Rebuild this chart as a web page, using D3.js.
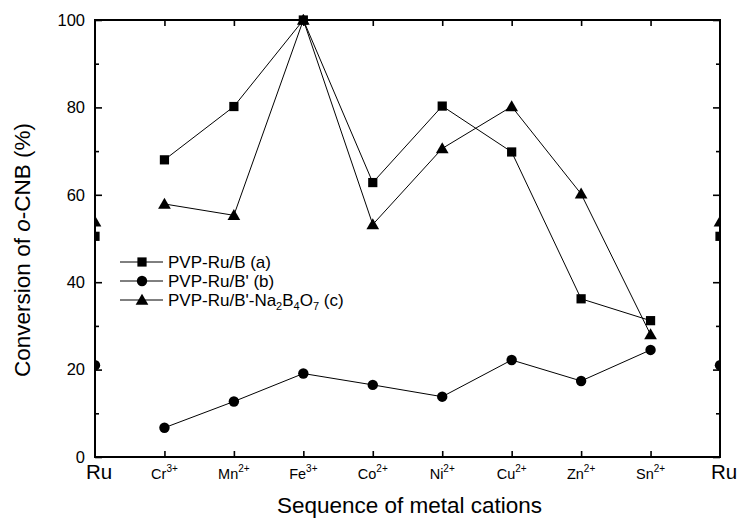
<!DOCTYPE html>
<html>
<head>
<meta charset="utf-8">
<script src="https://cdn.jsdelivr.net/npm/d3@7"></script>
<style>
  html, body { margin: 0; padding: 0; background: #fff; }
  svg { display: block; font-family: Arial, "Liberation Sans", sans-serif; }
</style>
</head>
<body>
<svg id="chart" width="738" height="518"></svg>
<script>
// ---- data ----
const categories = ["Ru", "Cr", "Mn", "Fe", "Co", "Ni", "Cu", "Zn", "Sn", "Ru"];
const charges = ["", "3+", "2+", "3+", "2+", "2+", "2+", "2+", "2+", ""];
const seriesA = [50.5, 68.0, 80.2, 100, 62.8, 80.3, 69.8, 36.2, 31.2, 50.5];   // PVP-Ru/B (a)
const seriesB = [21.0, 6.7, 12.7, 19.1, 16.5, 13.8, 22.2, 17.4, 24.5, 21.0];   // PVP-Ru/B' (b)
const seriesC = [53.8, 57.9, 55.3, 100, 53.2, 70.6, 80.2, 60.2, 28.0, 53.8];   // PVP-Ru/B'-Na2B4O7 (c)
const yMajorTicks = [0, 20, 40, 60, 80, 100];
const yMinorTicks = [10, 30, 50, 70, 90];

// ---- layout ----
const svg = d3.select("#chart");
const L = 95, R = 720, T = 20, B = 457;
const x = d3.scaleLinear().domain([0, categories.length - 1]).range([L, R]);
const y = d3.scaleLinear().domain([0, 100]).range([B, T]);
const inner = d3.range(1, categories.length - 1);

svg.append("defs").append("clipPath").attr("id", "plotclip")
  .append("rect").attr("x", L).attr("y", T - 6).attr("width", R - L).attr("height", B - T + 6);

// axes
const axisFont = "16.5px";
const gl = svg.append("g").attr("transform", `translate(${L},0)`)
  .call(d3.axisLeft(y).tickValues(yMajorTicks).tickSizeInner(-7).tickSizeOuter(0).tickPadding(10));
svg.append("g").attr("transform", `translate(${L},0)`)
  .call(d3.axisLeft(y).tickValues(yMinorTicks).tickSizeInner(-4).tickSizeOuter(0).tickFormat(""));
svg.append("g").attr("transform", `translate(${R},0)`)
  .call(d3.axisRight(y).tickValues(yMajorTicks).tickSizeInner(-7).tickSizeOuter(0).tickFormat(""));
svg.append("g").attr("transform", `translate(${R},0)`)
  .call(d3.axisRight(y).tickValues(yMinorTicks).tickSizeInner(-4).tickSizeOuter(0).tickFormat(""));
svg.append("g").attr("transform", `translate(0,${B})`)
  .call(d3.axisBottom(x).tickValues(inner).tickSizeInner(-6).tickSizeOuter(0).tickFormat(""));
svg.append("g").attr("transform", `translate(0,${T})`)
  .call(d3.axisTop(x).tickValues(inner).tickSizeInner(-6).tickSizeOuter(0).tickFormat(""));
svg.selectAll(".domain").remove();
svg.selectAll(".tick line").attr("stroke", "#000").attr("stroke-width", 1.6);
gl.selectAll(".tick text").attr("font-size", axisFont).attr("fill", "#000")
  .attr("font-family", "Arial, 'Liberation Sans', sans-serif");

svg.append("rect").attr("x", L).attr("y", T).attr("width", R - L).attr("height", B - T)
  .attr("fill", "none").attr("stroke", "#000").attr("stroke-width", 2);

// x category labels
categories.forEach((c, i) => {
  if (c === "Ru") {
    svg.append("text").attr("x", x(i) + 4).attr("y", B + 22).attr("text-anchor", "middle")
      .attr("font-size", "20.5px").text(c);
  } else {
    const t = svg.append("text").attr("x", x(i)).attr("y", B + 22).attr("text-anchor", "middle")
      .attr("font-size", "14.5px");
    t.append("tspan").text(c);
    t.append("tspan").attr("dy", -7).attr("font-size", "10px").text(charges[i]);
  }
});

// titles
svg.append("text").attr("x", (L + R) / 2 + 2).attr("y", 513).attr("text-anchor", "middle")
  .attr("font-size", "22.5px").text("Sequence of metal cations");
const yt = svg.append("text").attr("transform", `translate(30,250) rotate(-90)`)
  .attr("text-anchor", "middle").attr("font-size", "22.5px");
yt.append("tspan").text("Conversion of ");
yt.append("tspan").attr("font-style", "italic").text("o");
yt.append("tspan").text("-CNB (%)");

// series
const plot = svg.append("g");
const marks = svg.append("g").attr("clip-path", "url(#plotclip)");
const line = d3.line().x(d => x(d[0])).y(d => y(d[1]));
const sym = {
  square: d3.symbol().type(d3.symbolSquare).size(85),
  circle: d3.symbol().type(d3.symbolCircle).size(85),
  triangle: d3.symbol().type(d3.symbolTriangle).size(70)
};
const series = [
  { name: "PVP-Ru/B (a)", values: seriesA, shape: "square" },
  { name: "PVP-Ru/B' (b)", values: seriesB, shape: "circle" },
  { name: "PVP-Ru/B'-Na2B4O7 (c)", values: seriesC, shape: "triangle" }
];
series.forEach(s => {
  const pts = s.values.map((v, i) => [i, v]);
  plot.append("path").datum(pts.slice(1, pts.length - 1)).attr("d", line)
    .attr("fill", "none").attr("stroke", "#000").attr("stroke-width", 1);
  marks.selectAll(null).data(pts).enter().append("path")
    .attr("transform", d => `translate(${x(d[0])},${y(d[1]) + (s.shape === "triangle" ? 1 : 0)})`)
    .attr("d", sym[s.shape]()).attr("fill", "#000");
});

// legend
const lg = svg.append("g");
const rows = [262, 281, 300];
series.forEach((s, i) => {
  const yy = rows[i];
  lg.append("line").attr("x1", 120).attr("x2", 163).attr("y1", yy).attr("y2", yy)
    .attr("stroke", "#000").attr("stroke-width", 1);
  lg.append("path").attr("transform", `translate(142,${yy + (s.shape === "triangle" ? 1 : 0)})`)
    .attr("d", sym[s.shape]()).attr("fill", "#000");
  const t = lg.append("text").attr("x", 168).attr("y", yy + 6).attr("font-size", "17px");
  if (i < 2) {
    t.text(s.name);
  } else {
    t.append("tspan").text("PVP-Ru/B'-Na");
    t.append("tspan").attr("font-size", "11px").attr("dy", 4).text("2");
    t.append("tspan").attr("dy", -4).text("B");
    t.append("tspan").attr("font-size", "11px").attr("dy", 4).text("4");
    t.append("tspan").attr("dy", -4).text("O");
    t.append("tspan").attr("font-size", "11px").attr("dy", 4).text("7");
    t.append("tspan").attr("dy", -4).text(" (c)");
  }
});
</script>
</body>
</html>
